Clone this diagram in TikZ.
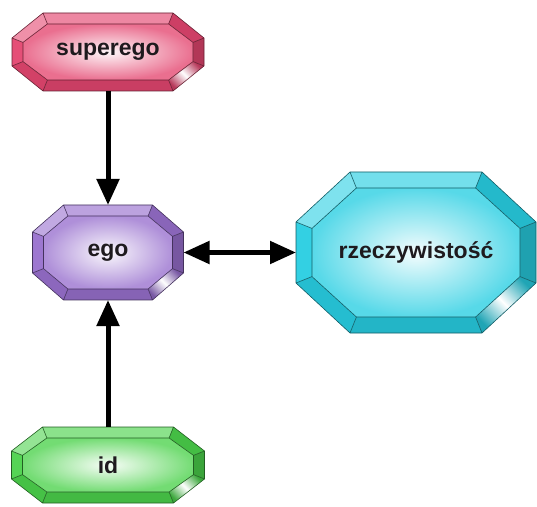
\documentclass[tikz,border=0pt]{standalone}
\usepackage{fontspec}
\setmainfont{Liberation Sans}
\usetikzlibrary{arrows.meta,backgrounds}

\definecolor{supercol}{RGB}{228,70,112}
\definecolor{egocol}{RGB}{152,112,206}
\definecolor{realcol}{RGB}{40,206,226}
\definecolor{idcol}{RGB}{76,210,76}
\definecolor{gemtext}{RGB}{30,26,30}

% bevelled octagon round a node: node, colour, half width, half height, chamfer x, chamfer y, bevel
\newcommand\gemface[7]{%
  \begin{scope}[shift={(#1.center)}]
    \pgfmathsetmacro\iw{#3-#7}\pgfmathsetmacro\ih{#4-#7}%
    \pgfmathsetmacro\icx{#5-0.6*#7}\pgfmathsetmacro\icy{#6-0.6*#7}%
    \path (-#3+#5,#4) coordinate (o1) (#3-#5,#4) coordinate (o2)
          (#3,#4-#6) coordinate (o3) (#3,-#4+#6) coordinate (o4)
          (#3-#5,-#4) coordinate (o5) (-#3+#5,-#4) coordinate (o6)
          (-#3,-#4+#6) coordinate (o7) (-#3,#4-#6) coordinate (o8);
    \path (-\iw+\icx,\ih) coordinate (i1) (\iw-\icx,\ih) coordinate (i2)
          (\iw,\ih-\icy) coordinate (i3) (\iw,-\ih+\icy) coordinate (i4)
          (\iw-\icx,-\ih) coordinate (i5) (-\iw+\icx,-\ih) coordinate (i6)
          (-\iw,-\ih+\icy) coordinate (i7) (-\iw,\ih-\icy) coordinate (i8);
    \fill[#2!65!white] (o1)--(o2)--(i2)--(i1)--cycle;
    \fill[#2!90!black] (o2)--(o3)--(i3)--(i2)--cycle;
    \fill[#2!78!black] (o3)--(o4)--(i4)--(i3)--cycle;
    \shade[left color=#2!80!black,right color=#2!80!black,middle color=white,shading angle=135]
      (o4)--(o5)--(i5)--(i4)--cycle;
    \fill[#2!88!black] (o5)--(o6)--(i6)--(i5)--cycle;
    \fill[#2!92!black] (o6)--(o7)--(i7)--(i6)--cycle;
    \fill[#2!95!white] (o7)--(o8)--(i8)--(i7)--cycle;
    \fill[#2!60!white] (o8)--(o1)--(i1)--(i8)--cycle;
    \shade[inner color=#2!5!white,outer color=#2!78!white]
      (i1)--(i2)--(i3)--(i4)--(i5)--(i6)--(i7)--(i8)--cycle;
    \draw[#2!45!black,line width=0.6pt,line join=round]
      (o1)--(o2)--(o3)--(o4)--(o5)--(o6)--(o7)--(o8)--cycle
      (i1)--(i2)--(i3)--(i4)--(i5)--(i6)--(i7)--(i8)--cycle
      (o1)--(i1) (o2)--(i2) (o3)--(i3) (o4)--(i4)
      (o5)--(i5) (o6)--(i6) (o7)--(i7) (o8)--(i8);
  \end{scope}}

\tikzset{
  gem/.style 2 args={minimum width=2*#1pt,minimum height=2*#2pt,
    inner sep=0pt,outer sep=0pt,text=gemtext,
    font=\bfseries\fontsize{23}{26}\selectfont}
}

\begin{document}
\begin{tikzpicture}[x=1pt,y=1pt,>={Triangle[length=26pt,width=22pt]}]
\useasboundingbox (0,0) rectangle (537,506);

\node[gem={96}{39}] (superego) at (108,454) {superego};
\node[gem={75.5}{47.5}] (ego) at (108,253.5) {ego};
\node[gem={120}{80.5}] (rzecz) at (416,253.5) {rzeczywistość};
\node[gem={96.5}{38}] (id) at (108,41) {id};

\begin{scope}[on background layer]
\foreach \n/\c/\w/\h/\cx/\cy/\d in {superego/supercol/96/39/31/25/11,
    ego/egocol/75.5/47.5/31/27/11, rzecz/realcol/120/80.5/54/50/16,
    id/idcol/96.5/38/31/24/11}
  \gemface{\n}{\c}{\w}{\h}{\cx}{\cy}{\d};
\end{scope}

\draw[->,line width=5pt] (superego) -- (ego);
\draw[->,line width=5pt] (id) -- (ego);
\draw[<->,line width=5pt] (ego) -- (rzecz);
\end{tikzpicture}
\end{document}
